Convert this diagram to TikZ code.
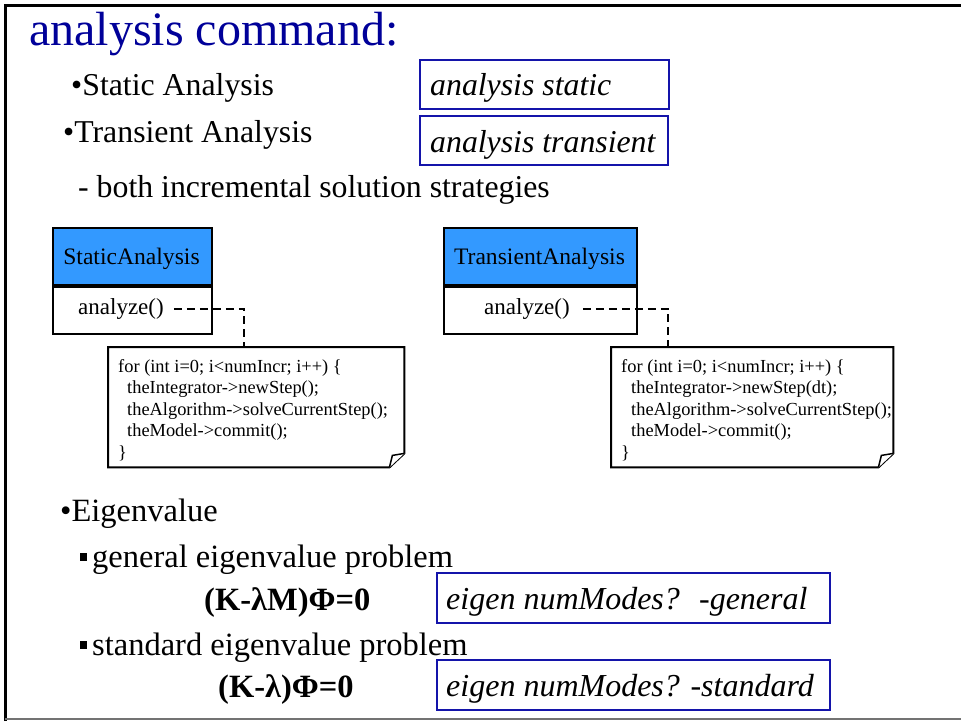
\documentclass[tikz,border=0pt]{standalone}
\usepackage{fontspec}
\setmainfont{Liberation Serif}
\definecolor{titleblue}{RGB}{0,0,153}
\definecolor{cmdblue}{RGB}{20,20,170}
\definecolor{classblue}{RGB}{51,153,255}
\newcommand\sqbul{\rule[6pt]{7pt}{8pt}\hspace{5pt}}
\begin{document}
\begin{tikzpicture}[x=1pt,y=-1pt,
  txt/.style={anchor=base west, inner sep=0pt, font=\fontsize{31.8}{36}\selectfont},
  low/.style={anchor=base west, inner sep=0pt, font=\fontsize{32.5}{38}\selectfont},
  eq/.style={anchor=base west, inner sep=0pt, font=\fontsize{32.5}{38}\selectfont\bfseries},
  cmdbox/.style={draw=cmdblue, line width=1.5pt, anchor=north west, inner sep=0pt},
  cmdtxt/.style={anchor=base west, inner sep=0pt, font=\fontsize{31.8}{36}\selectfont\itshape},
  cmdtxtb/.style={anchor=base west, inner sep=0pt, font=\fontsize{32}{38}\selectfont\itshape},
  classhead/.style={draw=black, line width=2pt, fill=classblue, anchor=north west, inner sep=0pt, minimum height=57pt},
  classbody/.style={draw=black, line width=2pt, fill=white, anchor=north west, inner sep=0pt, minimum height=47pt},
  classname/.style={anchor=base, inner sep=0pt, font=\fontsize{23.6}{27}\selectfont},
  opname/.style={anchor=base west, inner sep=0pt, font=\fontsize{23}{27}\selectfont},
  codeln/.style={anchor=base west, inner sep=0pt, font=\fontsize{18.4}{21}\selectfont},
  notearea/.style={anchor=north west, inner sep=0pt, minimum height=120pt},
  notebox/.style={draw=black, line width=2pt, fill=white, line join=miter},
  conn/.style={draw=black, line width=2pt, dash pattern=on 8pt off 5pt},
]
\useasboundingbox (0,0) rectangle (961,721);
% frame
\draw[line width=3pt] (5,721) -- (5,5) -- (961,5);
\draw[black!55, line width=2pt] (5,719) -- (961,719);

% title and bullets
\node[anchor=base west, inner sep=0pt, text=titleblue, font=\fontsize{48}{52}\selectfont] (title) at (29,45) {analysis command:};
\node[txt] (stat) at (71,95) {•Static Analysis};
\node[txt] (trans) at (63,142) {•Transient Analysis};
\node[cmdbox, minimum width=249pt, minimum height=49pt] (cb1) at (419,59) {};
\node[cmdtxt] (ct1) at (430,95) {analysis static};
\node[cmdbox, minimum width=248pt, minimum height=49pt] (cb2) at (419,115) {};
\node[cmdtxt] (ct2) at (430,152) {analysis transient};
\node[txt] (both) at (78,197) {- both incremental solution strategies};

% connectors (drawn first)
\coordinate (k1) at (244,347);
\coordinate (k2) at (668,347);

% StaticAnalysis class
\node[classhead, minimum width=159pt] (sa) at (52,227) {};
\node[classbody, minimum width=159pt] (sab) at (sa.south west) {};
\node[classname] (san) at (131.5,264) {StaticAnalysis};
\node[opname] (an1) at (78,314) {analyze()};
\draw[conn] ([xshift=10pt]an1.east) -| (k1);

% TransientAnalysis class
\node[classhead, minimum width=193pt] (ta) at (443,227) {};
\node[classbody, minimum width=193pt] (tab) at (ta.south west) {};
\node[classname] (tan) at (539.5,264) {TransientAnalysis};
\node[opname] (an2) at (484,314) {analyze()};
\draw[conn] ([xshift=13pt]an2.east) -| (k2);

% note 1
\node[notearea, minimum width=296pt] (n1) at (108,347) {};
\draw[notebox] (n1.north west) -- (n1.north east) -- ([yshift=14pt]n1.south east) -- ([xshift=-15pt]n1.south east) -- (n1.south west) -- cycle;
\draw[notebox, line width=1.5pt] ([yshift=14pt]n1.south east) -- ([xshift=-12pt,yshift=12pt]n1.south east) -- ([xshift=-15pt]n1.south east);
\node[codeln] (c11) at (118,372) {for (int i=0; i<numIncr; i++) \{};
\node[codeln] (c12) at (127,393.5) {theIntegrator->newStep();};
\node[codeln] (c13) at (127,415) {theAlgorithm->solveCurrentStep();};
\node[codeln] (c14) at (127,436.5) {theModel->commit();};
\node[codeln] (c15) at (118,458) {\}};

% note 2
\node[notearea, minimum width=282pt] (n2) at (611,347) {};
\draw[notebox] (n2.north west) -- (n2.north east) -- ([yshift=14pt]n2.south east) -- ([xshift=-15pt]n2.south east) -- (n2.south west) -- cycle;
\draw[notebox, line width=1.5pt] ([yshift=14pt]n2.south east) -- ([xshift=-12pt,yshift=12pt]n2.south east) -- ([xshift=-15pt]n2.south east);
\node[codeln] (c21) at (621,372) {for (int i=0; i<numIncr; i++) \{};
\node[codeln] (c22) at (631,393.5) {theIntegrator->newStep(dt);};
\node[codeln] (c23) at (631,415) {theAlgorithm->solveCurrentStep();};
\node[codeln] (c24) at (631,436.5) {theModel->commit();};
\node[codeln] (c25) at (621,458) {\}};

% eigenvalue part
\node[low] (eig) at (60,521) {•Eigenvalue};
\node[low] (gen) at (80,567) {\sqbul general eigenvalue problem};
\node[eq] (eq1) at (204,610) {(K-λM)Φ=0};
\node[cmdbox, minimum width=393pt, minimum height=50pt] (cb3) at (436,572) {};
\node[cmdtxtb] (ct3) at (446,609) {eigen numModes?\hspace{0.6em}-general};
\node[low] (std) at (80,655) {\sqbul standard eigenvalue problem};
\node[eq] (eq2) at (218,697) {(K-λ)Φ=0};
\node[cmdbox, minimum width=393pt, minimum height=50pt] (cb4) at (436,659) {};
\node[cmdtxtb] (ct4) at (446,696) {eigen numModes? -standard};
\end{tikzpicture}
\end{document}
